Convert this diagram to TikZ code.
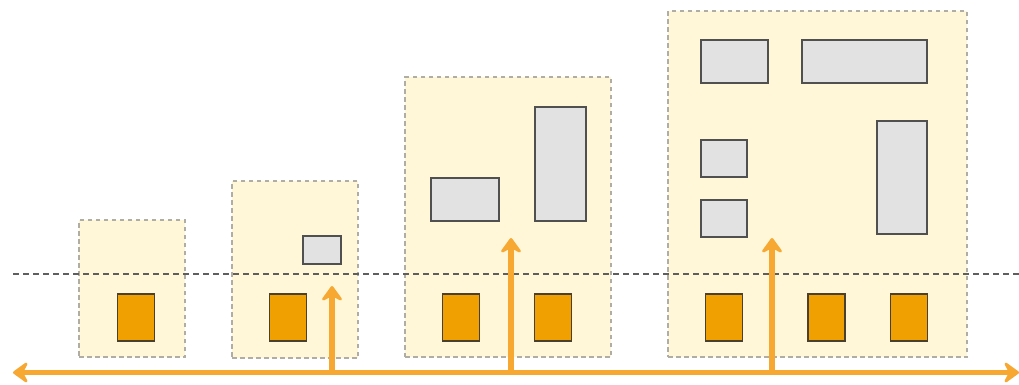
\documentclass[tikz,border=0pt]{standalone}
\usetikzlibrary{arrows.meta}
\definecolor{contfill}{HTML}{FFF7D8}
\definecolor{contdraw}{HTML}{B0AEA4}
\definecolor{ofill}{HTML}{F0A000}
\definecolor{odraw}{HTML}{4A4030}
\definecolor{gfill}{HTML}{E2E2E2}
\definecolor{gdraw}{HTML}{505050}
\definecolor{arr}{HTML}{F6A832}
\definecolor{dline}{HTML}{5E5E5E}
\tikzset{
  cont/.style={draw=contdraw, fill=contfill, line width=1.2pt, dash pattern=on 4.5pt off 3.5pt, inner sep=0pt, outer sep=0pt},
  obox/.style={draw=odraw, fill=ofill, line width=1.6pt, inner sep=0pt, outer sep=0pt, minimum width=37pt, minimum height=47pt},
  gbox/.style={draw=gdraw, fill=gfill, line width=1.6pt, inner sep=0pt, outer sep=0pt},
  tip/.tip={Stealth[length=18pt,width=26pt,inset=7pt,round]},
  arrline/.style={draw=arr, line width=5.5pt, -tip},
  arrboth/.style={draw=arr, line width=5.5pt, tip-tip},
  sepline/.style={draw=dline, line width=2pt, dash pattern=on 6pt off 4pt}
}
\begin{document}
\begin{tikzpicture}[x=1pt,y=-1pt]
\useasboundingbox (0,0) rectangle (1019,384);
% containers
\node[cont, minimum width=106pt, minimum height=137pt] (c1) at (132,288.5) {};
\node[cont, minimum width=126pt, minimum height=177pt] (c2) at (295,269.5) {};
\node[cont, minimum width=206pt, minimum height=280pt] (c3) at (508,217) {};
\node[cont, minimum width=299pt, minimum height=346pt] (c4) at (817.5,184) {};
% separator line
\coordinate (sl) at (13,273.5);
\coordinate (sr) at (1019,273.5);
\draw[sepline] (sl) -- (sr);
% orange boxes
\node[obox] (o1) at (136,317.5) {};
\node[obox] (o2) at (288,317.5) {};
\node[obox] (o3) at (461,317.5) {};
\node[obox] (o4) at (553,317.5) {};
\node[obox] (o5) at (724,317.5) {};
\node[obox] (o6) at (826.5,317.5) {};
\node[obox] (o7) at (909,317.5) {};
% gray boxes
\node[gbox, minimum width=38pt, minimum height=28pt] (g1) at (322,250) {};
\node[gbox, minimum width=68pt, minimum height=43pt] (g2) at (465,199.5) {};
\node[gbox, minimum width=51pt, minimum height=114pt] (g3) at (560.5,164) {};
\node[gbox, minimum width=67pt, minimum height=43pt] (g4) at (734.5,61.5) {};
\node[gbox, minimum width=125pt, minimum height=43pt] (g5) at (864.5,61.5) {};
\node[gbox, minimum width=46pt, minimum height=37pt] (g6) at (724,158.5) {};
\node[gbox, minimum width=46pt, minimum height=37pt] (g7) at (724,218.5) {};
\node[gbox, minimum width=50pt, minimum height=113pt] (g8) at (902,177.5) {};
% arrows
\coordinate (hl) at (13,372.5);
\coordinate (hr) at (1019,372.5);
\coordinate (b1) at (332,372.5);
\coordinate (t1) at (332,286);
\coordinate (b2) at (511,372.5);
\coordinate (t2) at (511,238);
\coordinate (b3) at (772,372.5);
\coordinate (t3) at (772,238);
\draw[arrline] (b1) -- (t1);
\draw[arrline] (b2) -- (t2);
\draw[arrline] (b3) -- (t3);
\draw[arrboth] (hl) -- (hr);
\end{tikzpicture}
\end{document}
